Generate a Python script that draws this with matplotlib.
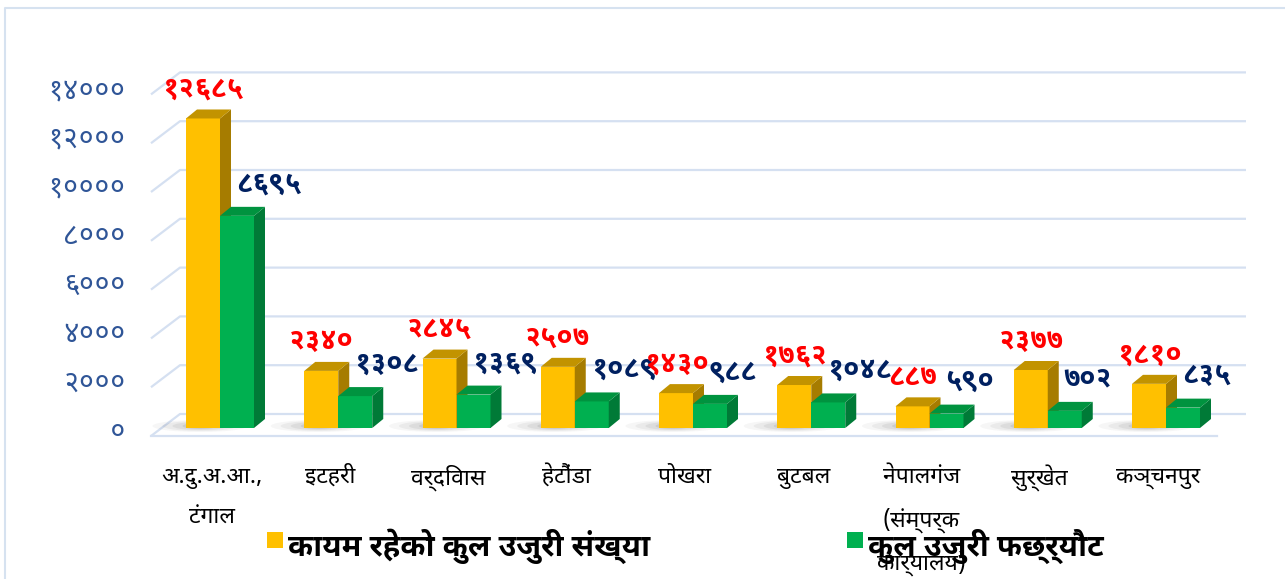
import matplotlib
matplotlib.use("Agg")
import matplotlib.pyplot as plt
from matplotlib.patches import Polygon, Rectangle, Ellipse
from matplotlib.lines import Line2D

categories = ["अ.दु.अ.आ.,\nटंगाल", "इटहरी", "वर्दिवास", "हेटौंडा", "पोखरा", "बुटबल",
              "नेपालगंज\n(संम्पर्क\nकार्यालय)", "सुर्खेत", "कञ्चनपुर"]
registered = [12685, 2340, 2845, 2507, 1430, 1762, 887, 2377, 1810]
settled = [8695, 1308, 1369, 1089, 988, 1048, 590, 702, 835]
yticks = [0, 2000, 4000, 6000, 8000, 10000, 12000, 14000]
series_names = ["कायम रहेको कुल उजुरी संख्या", "कुल उजुरी फछ्र्यौट"]

DEV_DIGITS = str.maketrans("0123456789", "०१२३४५६७८९")


def dev(n):
    return str(n).translate(DEV_DIGITS)


plt.rcParams["font.family"] = ["Noto Sans Devanagari UI", "Noto Sans Devanagari", "DejaVu Sans"]

W, H = 1285, 579
fig = plt.figure(figsize=(W / 100, H / 100), dpi=100)
ax = fig.add_axes([0, 0, 1, 1])

# pixel scale of the drawing
px_cat = 118.25
px_val = 0.0244
x0, y0 = 220, 428
ax.set_xlim(-x0 / px_cat, (W - x0) / px_cat)
ax.set_ylim((y0 - H) / px_val, y0 / px_val)
ax.axis("off")


def dx(p):
    return p / px_cat


def dy(p):
    return p / px_val


grid_c = "#D5E0F1"
xs_front = dx(151 - x0)
xs_back = dx(180 - x0)
xe_back = dx(1246 - x0)
for v in yticks:
    ax.plot([xs_front, xs_back, xe_back], [v - dy(8), v + dy(14), v + dy(14)],
            color=grid_c, lw=1.6, zorder=1, solid_capstyle="butt")
ax.plot([xs_front, dx(1217 - x0)], [-dy(8), -dy(8)], color=grid_c, lw=1.6, zorder=1)

for v in yticks:
    ax.text(dx(126 - x0), v - dy(4), dev(v), ha="right", va="center",
            fontsize=20.5, color="#2F5597")

bw = dx(34)
ddx, ddy = dx(11), dy(9)


def bar3d(xl, h, front, side, top):
    ax.add_patch(Rectangle((xl, 0), bw, h, fc=front, ec="none", zorder=3))
    ax.add_patch(Polygon([(xl + bw, 0), (xl + bw + ddx, ddy), (xl + bw + ddx, h + ddy),
                          (xl + bw, h)], closed=True, fc=side, ec="none", zorder=3))
    ax.add_patch(Polygon([(xl, h), (xl + ddx, h + ddy), (xl + bw + ddx, h + ddy),
                          (xl + bw, h)], closed=True, fc=top, ec="none", zorder=3))


for i, (a, b) in enumerate(zip(registered, settled)):
    # soft floor shadow
    for k, (w, a_) in enumerate([(95, 0.05), (75, 0.07), (55, 0.09), (35, 0.12)]):
        ax.add_patch(Ellipse((i - dx(20), dy(2)), dx(w), dy(12 - k * 2),
                             fc="#555555", ec="none", alpha=a_, zorder=2))
    bar3d(i - bw, a, "#FFC000", "#A67C00", "#C29300")
    bar3d(i, b, "#00B050", "#007A37", "#00933F")
    ax.text(i - bw / 2, a + dy(29), dev(a), ha="center", va="center",
            fontsize=20.5, fontweight="bold", color="#FF0000", zorder=5)
    ax.text(i + bw / 2 - dx(1), b + dy(32), dev(b), ha="left", va="center",
            fontsize=20.5, fontweight="bold", color="#002060", zorder=5)
    ax.text(i - dx(8), -dy(37), categories[i], ha="center", va="top",
            fontsize=16.5, color="black", linespacing=1.95, zorder=5)

# legend
fig.patches.append(Rectangle((267 / W, 1 - 548 / H), 16 / W, 16 / H, fc="#FFC000", ec="none",
                             transform=fig.transFigure))
fig.text(288 / W, 1 - 546 / H, series_names[0], fontsize=22, fontweight="bold",
         va="center", ha="left")
fig.patches.append(Rectangle((847 / W, 1 - 548 / H), 16 / W, 16 / H, fc="#00B050", ec="none",
                             transform=fig.transFigure))
fig.text(868 / W, 1 - 546 / H, series_names[1], fontsize=22, fontweight="bold",
         va="center", ha="left")

# outer border
fig.lines.append(Line2D([5 / W, 5 / W, 1], [0, 1 - 8 / H, 1 - 8 / H], color="#D6E2F0",
                        lw=1.5, transform=fig.transFigure))

fig.savefig("out.png", dpi=100)
